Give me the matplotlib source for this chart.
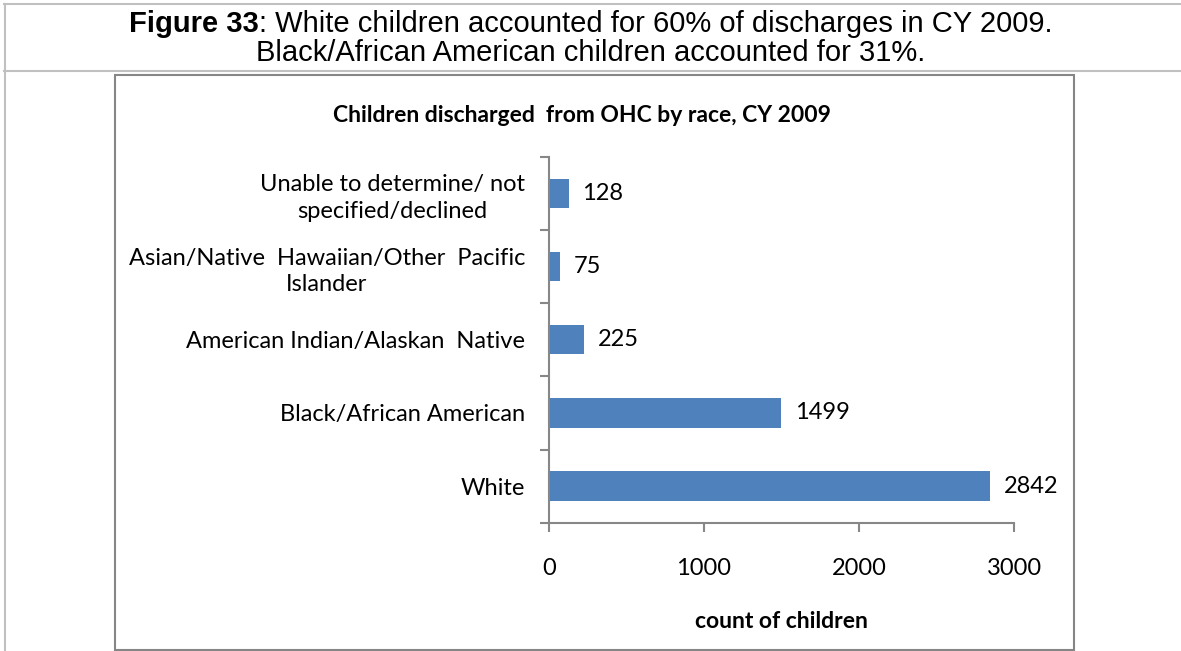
import matplotlib
matplotlib.use("Agg")
import matplotlib.pyplot as plt
from matplotlib.lines import Line2D
from matplotlib.patches import Rectangle

# ---- data ----
categories = [
    "White",
    "Black/African American",
    "American Indian/Alaskan  Native",
    "Asian/Native  Hawaiian/Other  Pacific\nIslander",
    "Unable to determine/ not\nspecified/declined",
]
counts = [2842, 1499, 225, 75, 128]
x_ticks = [0, 1000, 2000, 3000]

header_bold = "Figure 33"
header_rest = ": White children accounted for 60% of discharges in CY 2009."
header_line2 = "Black/African American children accounted for 31%."
chart_title = "Children discharged  from OHC by race, CY 2009"
x_title = "count of children"

# ---- figure in pixel units ----
W, H = 1181, 651
fig = plt.figure(figsize=(W / 100, H / 100), dpi=100)
fig.patch.set_facecolor("white")


def fx(x):
    return x / W


def fy(y):
    return 1 - y / H


def hline(x0, x1, y, color, lw):
    fig.add_artist(Line2D([fx(x0), fx(x1)], [fy(y), fy(y)],
                          transform=fig.transFigure, color=color, lw=lw))


def vline(x, y0, y1, color, lw):
    fig.add_artist(Line2D([fx(x), fx(x)], [fy(y0), fy(y1)],
                          transform=fig.transFigure, color=color, lw=lw))


# table frame around the caption
table_col = "#c0c0c0"
hline(4, W, 4, table_col, 1.5)
hline(4, W, 71, table_col, 1.5)
vline(5, 4, H, table_col, 1.5)

# chart area border
fig.add_artist(Rectangle((fx(115), fy(650)), fx(1074) - fx(115), fy(75) - fy(650),
                         transform=fig.transFigure, fill=False,
                         edgecolor="#868686", lw=1.5))

# caption: bold figure number followed by regular text
hdr_font = "Liberation Sans"
hdr_size = 21
renderer = fig.canvas.get_renderer()
t1 = fig.text(0, fy(32.5), header_bold, fontfamily=hdr_font, fontsize=hdr_size,
              fontweight="bold", ha="left", va="baseline")
t2 = fig.text(0, fy(32.5), header_rest, fontfamily=hdr_font, fontsize=hdr_size,
              ha="left", va="baseline")
w1 = t1.get_window_extent(renderer).width
w2 = t2.get_window_extent(renderer).width
start = 591 - (w1 + w2) / 2
t1.set_x(fx(start))
t2.set_x(fx(start + w1))
fig.text(fx(591), fy(61), header_line2, fontfamily=hdr_font, fontsize=hdr_size,
         ha="center", va="baseline")

# ---- chart ----
font = "Lato"
lab_size = 17
title_size = 16.5
axis_col = "#878787"
bar_col = "#4F81BD"

fig.text(fx(582), fy(121.5), chart_title, fontfamily=font, fontsize=title_size,
         fontweight="bold", ha="center", va="baseline")

ax = fig.add_axes([fx(548.7), fy(522.7), fx(1014.3) - fx(548.7), fy(156.7) - fy(522.7)])
ypos = list(range(len(categories)))
bars = ax.barh(ypos, counts, height=0.4, color=bar_col)

ax.set_xlim(0, 3000)
ax.set_ylim(-0.5, len(categories) - 0.5)

for s in ("top", "right"):
    ax.spines[s].set_visible(False)
for s in ("left", "bottom"):
    ax.spines[s].set_color(axis_col)
    ax.spines[s].set_linewidth(1.5)

ax.set_xticks(x_ticks)
ax.set_xticklabels([str(v) for v in x_ticks], fontfamily=font, fontsize=lab_size)
ax.tick_params(axis="x", direction="out", length=6.5, width=1.5, color=axis_col, pad=19)

# tick marks sit between categories, labels at category centres
ax.set_yticks([p - 0.5 for p in range(len(categories) + 1)])
ax.set_yticklabels([])
ax.set_yticks(ypos, minor=True)
ax.set_yticklabels(categories, minor=True, fontfamily=font, fontsize=lab_size,
                   multialignment="center", linespacing=1.35)
ax.tick_params(axis="y", which="major", direction="out", length=6.5, width=1.5,
               color=axis_col)
ax.tick_params(axis="y", which="minor", length=0, pad=17)

for rect, v in zip(bars, counts):
    ax.annotate(str(v), xy=(v, rect.get_y() + rect.get_height() / 2),
                xytext=(10, 0), textcoords="offset points",
                ha="left", va="center", fontfamily=font, fontsize=lab_size)

ax.set_xlabel(x_title, fontfamily=font, fontsize=title_size, fontweight="bold",
              labelpad=23)

fig.savefig("out.png", dpi=100, facecolor="white")
